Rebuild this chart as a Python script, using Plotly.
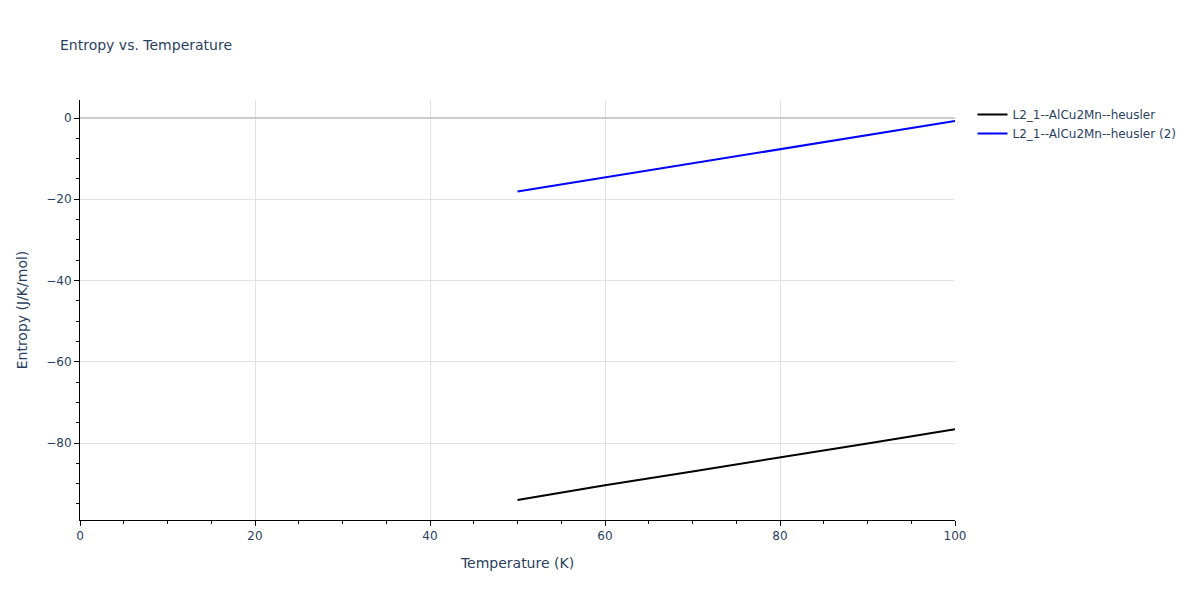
import plotly.graph_objects as go

temperature = [50, 60, 70, 80, 90, 100]
entropy_1 = [-94.0, -90.4, -87.0, -83.6, -80.1, -76.6]
entropy_2 = [-18.1, -14.6, -11.15, -7.7, -4.2, -0.74]

name_1 = "L2_1--AlCu2Mn--heusler"
name_2 = "L2_1--AlCu2Mn--heusler (2)"

fig = go.Figure()
fig.add_trace(go.Scatter(x=temperature, y=entropy_1, mode="lines", name=name_1,
                         line=dict(color="black", width=2)))
fig.add_trace(go.Scatter(x=temperature, y=entropy_2, mode="lines", name=name_2,
                         line=dict(color="blue", width=2)))

axis_style = dict(
    showline=True, linecolor="black", linewidth=1,
    ticks="outside", ticklen=5, tickcolor="black",
    showgrid=True, gridcolor="#e2e2e2", gridwidth=1,
    zeroline=True, zerolinecolor="#cccccc", zerolinewidth=2,
    minor=dict(ticks="outside", ticklen=3, tickcolor="black", showgrid=False, dtick=5),
    tickfont=dict(size=12),
)

fig.update_layout(
    template="plotly_white",
    width=1200, height=600,
    font=dict(family="Verdana, DejaVu Sans, sans-serif", color="#2a3f5f"),
    margin=dict(l=72, r=253, t=92, b=88),
    title=dict(text="Entropy vs. Temperature", font=dict(size=14),
               x=52 / 1200, xanchor="left", xref="container",
               y=1 - 37 / 600, yanchor="middle", yref="container"),
    xaxis=dict(title=dict(text="Temperature (K)", font=dict(size=14)),
               range=[0, 100], dtick=20, **axis_style),
    yaxis=dict(title=dict(text="Entropy (J/K/mol)", font=dict(size=14)),
               range=[-98.95, 4.43], dtick=20, **axis_style),
    legend=dict(font=dict(size=12)),
    plot_bgcolor="white",
    paper_bgcolor="white",
)

fig.write_html("out.html")
